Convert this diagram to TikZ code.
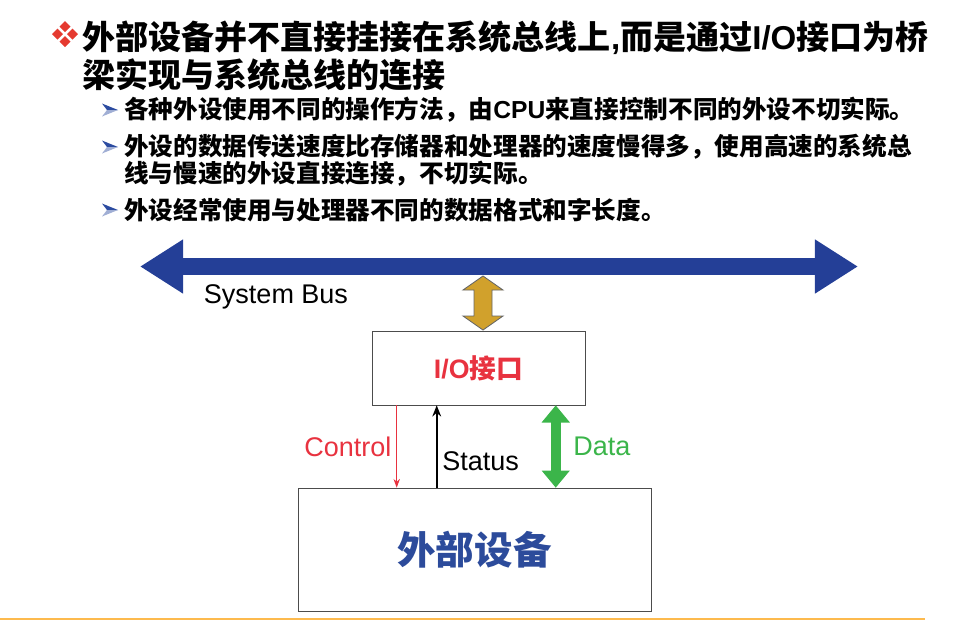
\documentclass[tikz,border=0pt]{standalone}
\usepackage{fontspec}
\setmainfont{Liberation Sans}
\newfontfamily\latin{Liberation Sans}
\newfontfamily\cjk{Noto Sans CJK SC}
\usetikzlibrary{arrows.meta,positioning,calc}

\definecolor{busblue}{HTML}{243F97}
\definecolor{busgold}{HTML}{D1A12C}
\definecolor{iored}{HTML}{E8323F}
\definecolor{datagreen}{HTML}{3BB54A}
\definecolor{devblue}{HTML}{2C4B9B}
\definecolor{rulegold}{HTML}{FDBA4E}
\definecolor{bulletred}{HTML}{E53A30}
\definecolor{bulletblue}{HTML}{2B4BA0}

\tikzset{
  bigmark/.pic={
    \foreach \dx/\dy in {0/-7.5,7.5/0,0/7.5,-7.5/0}
      \fill[bulletred] (\dx,\dy) ++(0,-5.5) -- ++(5.5,5.5) -- ++(-5.5,5.5) -- ++(-5.5,-5.5) -- cycle;
  },
  smallmark/.pic={
    \fill[bulletblue] (-8,-6.5) -- (8,0) -- (-3,0) -- cycle;
    \fill[bulletblue!45] (-3,0) -- (8,0) -- (-8,6.5) -- cycle;
  }
}

\begin{document}
\begin{tikzpicture}[x=0.025cm, y=-0.025cm,
    headline/.style={anchor=west, inner sep=0pt, font=\cjk\bfseries\fontsize{23.5}{28}\selectfont},
    subline/.style={anchor=west, inner sep=0pt, font=\cjk\bfseries\fontsize{17.5}{21}\selectfont},
    lbl/.style={font=\fontsize{19.2}{22}\selectfont},
    iobox/.style={draw=black!70, minimum width=5.325cm, minimum height=1.85cm, text=iored, font=\cjk\bfseries\fontsize{19}{22}\selectfont},
    devbox/.style={draw=black!70, minimum width=8.825cm, minimum height=3.075cm, text=devblue, font=\cjk\bfseries\fontsize{27.4}{32}\selectfont},
    bus/.style={draw=busblue, line width=0.43cm, {Triangle[length=1.075cm,width=1.275cm]}-{Triangle[length=1.075cm,width=1.275cm]}},
    goldarrow/.style={draw=black!60, fill=busgold, line width=0.6pt, line join=miter},
    ctrlarrow/.style={draw=iored, line width=0.8pt, -{Stealth[length=2.2mm,width=1.6mm]}},
    statarrow/.style={draw=black, line width=1.4pt, -{Stealth[length=2.8mm,width=2.2mm]}},
    dataarrow/.style={draw=datagreen, line width=0.25cm, {Triangle[length=0.43cm,width=0.68cm]}-{Triangle[length=0.43cm,width=0.68cm]}},
    rule/.style={draw=rulegold, line width=1.3pt}
  ]
  \useasboundingbox (0,0) rectangle (974,621);

  % text lines at the top
  \pic at (65,34) {bigmark};
  \node[headline] (t1) at (82,38) {外部设备并不直接挂接在系统总线上{\latin ,}而是通过{\latin I/O}接口为桥};
  \node[headline] (t2) at (82,75) {梁实现与系统总线的连接};
  \pic at (110,110) {smallmark};
  \node[subline] (s1) at (124,110) {各种外设使用不同的操作方法，由{\latin CPU}来直接控制不同的外设不切实际。};
  \pic at (110,147) {smallmark};
  \node[subline] (s2) at (124,147) {外设的数据传送速度比存储器和处理器的速度慢得多，使用高速的系统总};
  \node[subline] (s2b) at (124,174) {线与慢速的外设直接连接，不切实际。};
  \pic at (110,210) {smallmark};
  \node[subline] (s3) at (124,210) {外设经常使用与处理器不同的数据格式和字长度。};

  % bus, interface and device
  \coordinate (busL) at (140,266.5);
  \coordinate (busR) at (858,266.5);
  \draw[bus] (busL) -- (busR);
  \node[lbl] (buslbl) at (276,297) {System Bus};

  \node[iobox] (io) at (478.5,368) {{\latin I/O}接口};
  \node[devbox] (dev) at (474.5,549.5) {外部设备};

  \coordinate (tap) at (483,276);
  \draw[goldarrow] (tap) -- ++(20,14) -- ++(-11,0) -- ++(0,26) -- ++(11,0) -- ++(-20,14)
    -- ++(-20,-14) -- ++(11,0) -- ++(0,-26) -- ++(-11,0) -- cycle;

  \draw[ctrlarrow] ([xshift=0.625cm]io.south west) -- ([xshift=0.625cm]io.south west |- dev.north)
    node[midway, left, text=iored, lbl] (ctrllbl) {Control};
  \draw[statarrow] ([xshift=1.625cm]io.south west |- dev.north) -- ([xshift=1.625cm]io.south west)
    node[pos=0.32, right, lbl] (statlbl) {Status};
  \draw[dataarrow] ([xshift=4.6cm]io.south west) -- ([xshift=4.6cm]io.south west |- dev.north)
    node[midway, right=2mm, text=datagreen, lbl] (datalbl) {Data};

  \coordinate (ruleL) at (0,619);
  \coordinate (ruleR) at (925,619);
  \draw[rule] (ruleL) -- (ruleR);
\end{tikzpicture}
\end{document}
